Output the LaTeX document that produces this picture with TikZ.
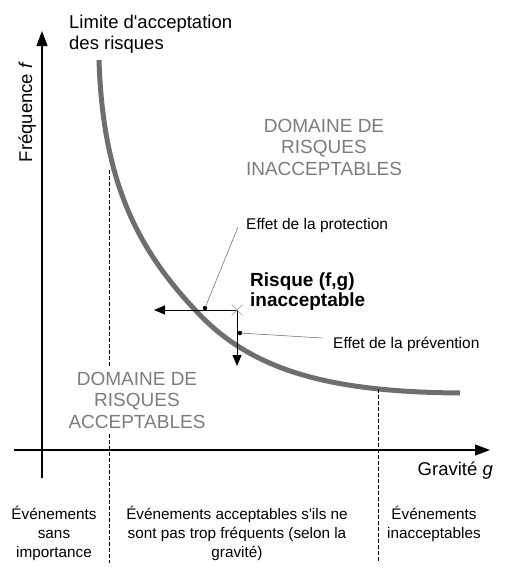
\documentclass[tikz,border=0pt]{standalone}
\usepackage{fontspec}
\setmainfont{Liberation Sans}
\usetikzlibrary{arrows.meta,shapes.misc}
\definecolor{curvegray}{RGB}{110,110,110}
\definecolor{domgray}{RGB}{125,125,125}
\definecolor{leadgray}{RGB}{100,100,100}
\definecolor{crossgray}{RGB}{150,150,150}
\begin{document}
\begin{tikzpicture}[x=1pt,y=-1pt,
  axis/.style={line width=1.1pt,-{Triangle[length=15pt,width=11pt]}},
  effect/.style={line width=1pt,-{Triangle[length=11pt,width=9pt]}},
  limitcurve/.style={curvegray,line width=5pt},
  sepline/.style={dash pattern=on 3.5pt off 2.5pt,line width=1pt},
  leader/.style={leadgray,line width=0.5pt},
  dotmark/.style={circle,fill=black,inner sep=0pt,minimum size=4.5pt},
  domtext/.style={domgray,fill=white,align=center,inner xsep=2pt,inner ysep=5pt,font=\fontsize{19}{21.5}\selectfont},
  axlabel/.style={inner sep=0pt,font=\fontsize{18.5}{21}\selectfont},
  smalllbl/.style={inner sep=0pt,font=\fontsize{15.5}{19}\selectfont},
  bottomtext/.style={align=center,inner sep=0pt,font=\fontsize{15.3}{19}\selectfont}]
\useasboundingbox (0,0) rectangle (508,574);

% axes
\coordinate (yStart) at (42,478);
\coordinate (yEnd) at (42,31);
\coordinate (xStart) at (14,450);
\coordinate (xEnd) at (490,450);
\draw[axis] (yStart) -- (yEnd);
\draw[axis] (xStart) -- (xEnd);

% limit curve
\coordinate (cTop) at (99,60);
\coordinate (cMid) at (198,313);
\coordinate (cEnd) at (460,393);
\draw[limitcurve] (cTop) .. controls (103,190) and (143,255) .. (cMid)
  .. controls (253,371) and (330,392) .. (cEnd);

% separators
\coordinate (sepLtop) at (109,170);
\coordinate (sepLbot) at (109,563);
\coordinate (sepRtop) at (378,389);
\coordinate (sepRbot) at (378,563);
\draw[sepline] (sepLtop) -- (sepLbot);
\draw[sepline] (sepRtop) -- (sepRbot);

% risk point and effects
\coordinate (risk) at (237,310);
\coordinate (protTip) at (154,310);
\coordinate (prevTip) at (237,366);
\draw[effect] (risk) -- (protTip);
\draw[effect] (risk) -- (prevTip);
\node[cross out,draw=crossgray,line width=0.6pt,minimum size=10pt,inner sep=0pt] (riskmark) at (risk) {};

\node[dotmark] (pdot) at (205,308) {};
\node[dotmark] (vdot) at (240,333) {};
\coordinate (protEnd) at (238,227);
\coordinate (prevEnd) at (322,338);
\draw[leader] (pdot.center) -- (protEnd);
\draw[leader] (vdot.center) -- (prevEnd);

% labels
\node[axlabel,anchor=north west,align=left] (limite) at (69,15) {Limite d\textquotesingle acceptation\\des risques};
\node[axlabel,rotate=90,anchor=base] (freq) at (32,112) {Fréquence \textit{f}};
\node[axlabel,anchor=base east] (grav) at (493,475) {Gravité \textit{g}};

\node[domtext] (domInacc) at (324,147) {DOMAINE DE\\RISQUES\\INACCEPTABLES};
\node[domtext] (domAcc) at (137,400) {DOMAINE DE\\RISQUES\\ACCEPTABLES};

\node[smalllbl,anchor=base west] (protLbl) at (246,229) {Effet de la protection};
\node[smalllbl,anchor=base west] (prevLbl) at (333,348) {Effet de la prévention};
\node[anchor=north west,align=left,inner sep=0pt,font=\fontsize{19}{20}\selectfont\bfseries] (riskLbl) at (250,273) {Risque (f,g)\\inacceptable};

\node[bottomtext] (evL) at (54,533) {Événements\\sans\\importance};
\node[bottomtext] (evM) at (237,533) {Événements acceptables s\textquotesingle ils ne\\sont pas trop fréquents (selon la\\gravité)};
\node[bottomtext] (evR) at (434,524) {Événements\\inacceptables};
\end{tikzpicture}
\end{document}
